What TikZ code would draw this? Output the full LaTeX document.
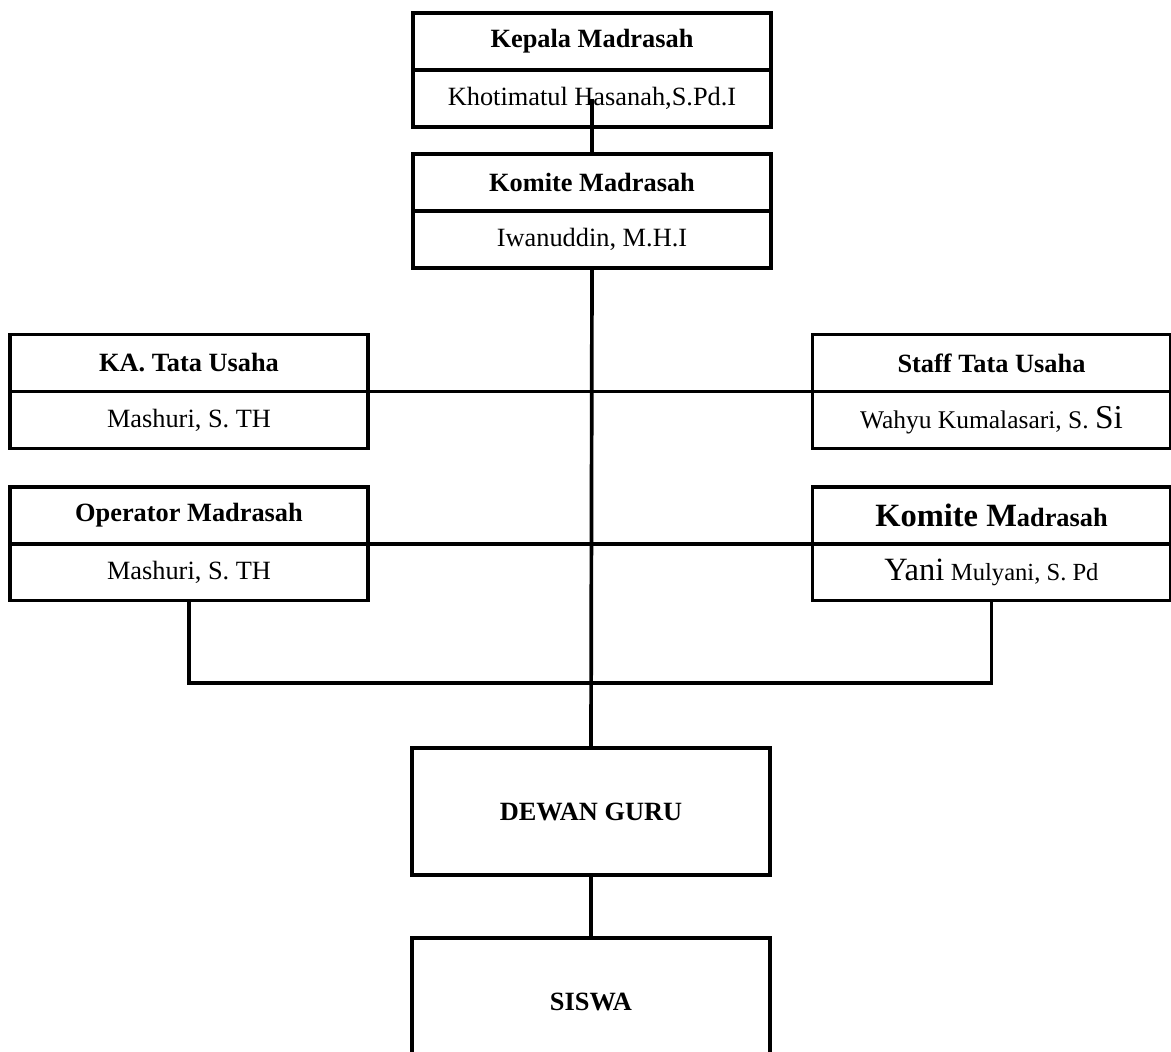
\documentclass[tikz,border=0pt]{standalone}
\usepackage{fontspec}
\setmainfont{Liberation Serif}
\newcommand{\hfnt}{\fontsize{15}{18}\selectfont}
\tikzset{
  orgbox/.style={draw, line width=2.1pt, inner sep=0pt, outer sep=0pt, minimum width=7.16cm, minimum height=1.14cm},
  headbox/.style={orgbox, font=\hfnt\bfseries},
  namebox/.style={orgbox, font=\hfnt},
  bigbox/.style={orgbox, minimum height=2.54cm, font=\hfnt\bfseries},
  link/.style={line width=2.1pt}
}
\begin{document}
\begin{tikzpicture}[x=0.02cm, y=-0.02cm]
	\useasboundingbox (0,0) rectangle (1171,1052);
	% pimpinan
	\node[headbox] (kephead) at (592,41.5) {Kepala Madrasah};
	\node[namebox] (kepname) at (592,98.5) {Khotimatul Hasanah,S.Pd.I};
	\node[headbox] (komhead) at (592,182.5) {Komite Madrasah};
	\node[namebox] (komname) at (592,239.5) {Iwanuddin, M.H.I};
	% staf kiri dan kanan
	\node[headbox] (kahead) at (189,363) {KA. Tata Usaha};
	\node[namebox] (kaname) at (189,420) {Mashuri, S. TH};
	\node[headbox] (sthead) at (991.5,363) {Staff Tata Usaha};
	\node[namebox] (stname) at (991.5,420) {\fontsize{14.5}{17}\selectfont Wahyu Kumalasari, S. {\fontsize{19}{20}\selectfont Si}};
	\node[headbox] (ophead) at (189,515.5) {Operator Madrasah};
	\node[namebox] (opname) at (189,572) {Mashuri, S. TH};
	\node[headbox] (kmhead) at (991.5,515.5) {{\fontsize{18.5}{20}\selectfont Komite M}adrasah};
	\node[namebox] (kmname) at (991.5,572) {{\fontsize{18.5}{20}\selectfont Yani} {\fontsize{14}{17}\selectfont Mulyani, S. Pd}};
	% guru dan siswa
	\node[bigbox] (dewan) at (591,811.5) {DEWAN GURU};
	\node[bigbox] (siswa) at (591,1001.5) {SISWA};
	\coordinate (bus) at (591,683);
	% garis
	\draw[link] (kepname.center) -- (komhead.north);
	\draw[link] (komname.south) -- (dewan.north);
	\draw[link] (kahead.south east) -- (sthead.south west);
	\draw[link] (ophead.south east) -- (kmhead.south west);
	\draw[link] (opname.south) |- (bus) -| (kmname.south);
	\draw[link] (dewan.south) -- (siswa.north);
\end{tikzpicture}
\end{document}
